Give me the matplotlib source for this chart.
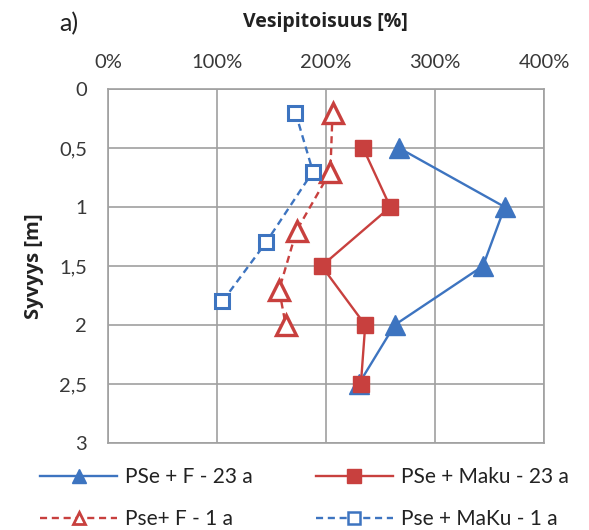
import matplotlib
matplotlib.use("Agg")
import matplotlib.pyplot as plt
from matplotlib.lines import Line2D
from matplotlib.ticker import FuncFormatter

# Data
depth_23 = [0.5, 1.0, 1.5, 2.0, 2.5]
pse_f_23 = [2.67, 3.64, 3.44, 2.63, 2.30]
pse_maku_23 = [2.34, 2.59, 1.96, 2.36, 2.32]
depth_f_1 = [0.2, 0.7, 1.2, 1.7, 2.0]
pse_f_1 = [2.06, 2.04, 1.73, 1.57, 1.63]
depth_maku_1 = [0.2, 0.7, 1.3, 1.8]
pse_maku_1 = [1.72, 1.88, 1.45, 1.05]

labels = ["PSe + F - 23 a", "PSe + Maku - 23 a", "Pse+ F - 1 a", "Pse + MaKu - 1 a"]
x_ticks = [0, 1, 2, 3, 4]
y_ticks = [0, 0.5, 1, 1.5, 2, 2.5, 3]

blue = "#3D74C0"
red = "#C8403E"
dash = (0, (3, 2))
lw = 1.7

plt.rcParams['font.family'] = ['Lato', 'DejaVu Sans']

fig = plt.figure(figsize=(5.89, 5.30), dpi=100)
ax = fig.add_axes([108/589, 1-443/530, (544-108)/589, (443-89)/530])

ax.plot(pse_f_23, depth_23, color=blue, lw=lw, marker='^', ms=15, mew=1, zorder=3)
ax.plot(pse_maku_23, depth_23, color=red, lw=lw, marker='s', ms=11, mew=1, zorder=4)
ax.plot(pse_f_1, depth_f_1, color=red, lw=lw, ls=dash, marker='^', ms=14,
        mfc='white', mec=red, mew=2.4, zorder=3)
ax.plot(pse_maku_1, depth_maku_1, color=blue, lw=lw, ls=dash, marker='s', ms=9.5,
        mfc='white', mec=blue, mew=2.2, zorder=3)

ax.set_xlim(0, 4)
ax.set_ylim(3, 0)
ax.set_xticks(x_ticks)
ax.set_yticks(y_ticks)
ax.xaxis.set_major_formatter(FuncFormatter(lambda v, p: f"{int(round(v*100))}%"))
ax.yaxis.set_major_formatter(FuncFormatter(lambda v, p: (f"{v:g}").replace('.', ',')))
ax.xaxis.tick_top()
ax.xaxis.set_label_position('top')
ax.tick_params(axis='both', length=0, labelsize=14.5, colors='#383838')
ax.tick_params(axis='y', pad=15)
ax.tick_params(axis='x', pad=13)
ax.grid(True, color='#a0a0a0', lw=1.2)
ax.set_axisbelow(True)
for s in ax.spines.values():
    s.set_color('#a0a0a0')
    s.set_linewidth(1.2)

bold_fam = ['Open Sans', 'DejaVu Sans']
fig.text(325/589, 1-22/530, "Vesipitoisuus [%]", ha='center', va='center',
         fontsize=14, fontweight='bold', color='#222222', family=bold_fam)
fig.text(69/589, 1-24/530, "a)", ha='center', va='center', fontsize=18, color='#222222')
fig.text(34/589, 1-266/530, "Syvyys [m]", ha='center', va='center', rotation=90,
         fontsize=14.5, fontweight='bold', color='#222222', family=bold_fam)

h1 = Line2D([], [], color=blue, lw=lw, marker='^', ms=9.5)
h2 = Line2D([], [], color=red, lw=lw, marker='s', ms=9.5)
h3 = Line2D([], [], color=red, lw=lw, ls=dash, marker='^', ms=9, mfc='white', mec=red, mew=2)
h4 = Line2D([], [], color=blue, lw=lw, ls=dash, marker='s', ms=8, mfc='white', mec=blue, mew=1.8)

leg = fig.legend(handles=[h1, h3, h2, h4], labels=[labels[0], labels[2], labels[1], labels[3]],
                 loc='upper left', ncol=2, bbox_to_anchor=(40/589, 1-467/530), frameon=False,
                 borderpad=0, borderaxespad=0, fontsize=15, handlelength=3.7,
                 handletextpad=0.4, columnspacing=3.0, labelspacing=1.05)
for t in leg.get_texts():
    t.set_color('#222222')

fig.savefig("out.png", dpi=100)
